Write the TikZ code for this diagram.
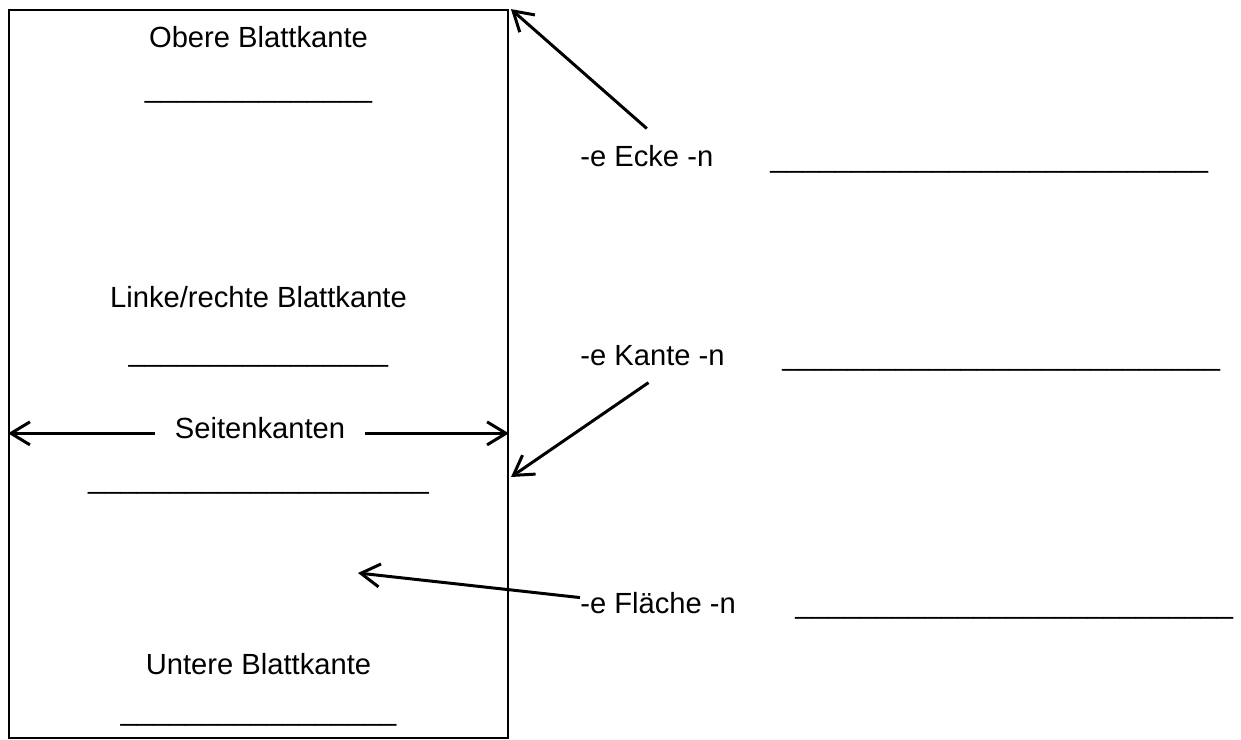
\documentclass[tikz,border=0pt]{standalone}
\usepackage{fontspec}
\setmainfont{Liberation Sans}
\usetikzlibrary{positioning,arrows.meta}
\newcommand{\luecke}[1]{\foreach \i in {1,...,#1}{\_}}
\tikzset{
    blatt/.style = {
        draw,
        shape=rectangle,
        minimum width=9.98cm,
        minimum height=14.56cm,
        line width=1.1pt,
        inner sep=0pt
    },
    schrift/.style = {
        font=\fontsize{16.6}{20}\selectfont,
        inner sep=0pt,
        anchor=base
    },
    wort/.style = {
        schrift,
        anchor=base west
    },
    pfeil/.style = {
        ->,
        line width=1.7pt
    },
    >={Straight Barb[length=0.38cm,width=0.46cm]},
}
\begin{document}
\begin{tikzpicture}[x=0.02cm,y=-0.02cm]
            \useasboundingbox (0,0) rectangle (1241,740);

            \node[blatt] (blatt) at (258.5,374) {};

            \node[schrift] (obere) at (258.5,48) {Obere Blattkante};
            \node[schrift] (obereL) at (258.5,98) {\luecke{14}};
            \node[schrift] (seitlich) at (258.5,307) {Linke/rechte Blattkante};
            \node[schrift] (seitlichL) at (258.5,361) {\luecke{16}};
            \node[schrift, inner xsep=0.4cm] (seiten) at (260,438) {Seitenkanten};
            \node[schrift] (seitenL) at (258.5,488) {\luecke{21}};
            \node[schrift] (untere) at (258.5,674) {Untere Blattkante};
            \node[schrift] (untereL) at (258.5,720) {\luecke{17}};

            \node[wort] (ecke) at (580,167) {-e Ecke -n};
            \node[wort] (eckeL) at (770,168) {\luecke{27}};
            \node[wort] (kante) at (580,365) {-e Kante -n};
            \node[wort] (kanteL) at (782,365) {\luecke{27}};
            \node[wort] (flaeche) at (580,613) {-e Fläche -n};
            \node[wort] (flaecheL) at (795,613) {\luecke{27}};

            \coordinate (kantenpunkt) at (511,477);
            \coordinate (flaechenpunkt) at (358,573);

            \path[draw, pfeil] (seiten.mid west) -- (blatt.west |- seiten.mid west);
            \path[draw, pfeil] (seiten.mid east) -- (blatt.east |- seiten.mid east);

            \path[draw, pfeil] ([yshift=0.34cm]ecke.north) -- ([xshift=0.04cm]blatt.north east);
            \path[draw, pfeil] ([xshift=-0.08cm,yshift=-0.34cm]kante.south) -- (kantenpunkt);
            \path[draw, pfeil] ([yshift=0.1cm]flaeche.west) -- (flaechenpunkt);

        \end{tikzpicture}
\end{document}
